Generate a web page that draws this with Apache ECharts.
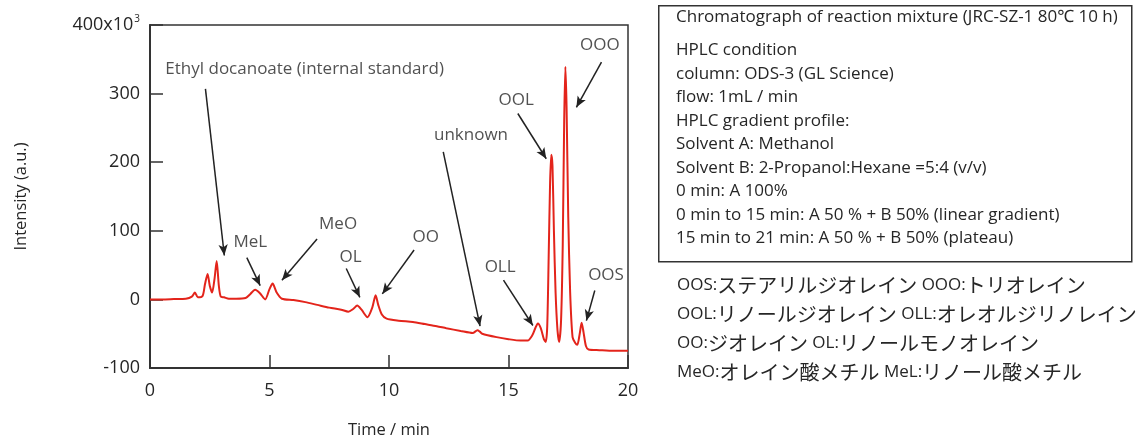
<!DOCTYPE html>
<html>
<head>
<meta charset="utf-8">
<script src="https://cdn.jsdelivr.net/npm/echarts@6/dist/echarts.min.js"></script>
<style>
  html, body { margin: 0; padding: 0; background: #fff; }
  #chart { width: 1138px; height: 439px; }
</style>
</head>
<body>
<div id="chart"></div>
<script>
// retention time (min) and intensity (x10^3, a.u.)
var times = [0, 0.5, 1.0, 1.5, 1.75, 1.88, 2.0, 2.2, 2.3, 2.41, 2.5, 2.6, 2.7, 2.79, 2.88, 2.96, 3.1, 3.3, 3.6, 4.0, 4.2, 4.4, 4.6, 4.82, 5.0, 5.13, 5.3, 5.52,
             6.0, 6.5, 7.0, 7.5, 8.0, 8.3, 8.5, 8.67, 8.85, 9.1, 9.3, 9.44, 9.55, 9.7, 9.9, 10.4, 11.0, 11.5, 12.0, 12.4, 13.0, 13.5, 13.7, 13.8, 13.9, 14.5, 15.0,
             15.5, 15.8, 16.0, 16.12, 16.23, 16.35, 16.48, 16.56, 16.62, 16.68, 16.74, 16.79, 16.84, 16.9, 16.97, 17.05, 17.12, 17.2, 17.27, 17.33, 17.38, 17.43,
             17.5, 17.58, 17.68, 17.8, 17.88, 17.98, 18.06, 18.14, 18.24, 18.35, 18.8, 19.4, 20];
var intensity = [0, 0, 0.5, 1, 4, 10, 3, 5, 22, 37, 20, 10, 30, 56, 20, 4, 3, 1, 1, 2, 8, 14, 9, 0, 15, 23, 10, 1,
                 -1, -4, -8, -12, -15, -18, -14, -9, -15, -26, -12, 6, -8, -22, -28, -31, -33, -36, -39, -42, -46, -49, -45, -47, -50, -55, -58,
                 -60, -60, -52, -42, -35, -42, -58, -62, -40, 60, 170, 211, 195, 100, 10, -45, -62, -30, 80, 260, 339, 280,
                 120, 10, -55, -64, -66, -50, -34, -48, -68, -73, -74, -75, -75];

var yTicks = [-100, 0, 100, 200, 300, 400];

// annotations: label text, label position, arrow tail, arrow head (data coords)
var annoText = ['Ethyl docanoate (internal standard)', 'MeL', 'MeO', 'OL', 'OO', 'unknown', 'OOL', 'OOO', 'OLL', 'OOS'];
var annoLabelPos = [[6.47, 335], [4.2, 83], [7.87, 110], [8.39, 61], [11.54, 91], [13.43, 239], [15.32, 290], [18.82, 370], [14.65, 47], [19.08, 35]];
var annoFrom = [[2.32, 307], [4.05, 61], [6.99, 88], [8.21, 45], [11.05, 72], [12.27, 215], [15.39, 271], [18.89, 346], [14.79, 28], [18.61, 13]];
var annoTo = [[3.11, 64], [4.61, 20], [5.52, 28], [8.78, 3], [9.72, 8], [13.81, -39], [16.58, 205], [17.84, 280], [16.02, -38], [18.26, -31]];

var infoTitle = 'Chromatograph of reaction mixture (JRC-SZ-1 80\u2103 10 h)';
var infoLines = [
    'HPLC condition',
    'column: ODS-3 (GL Science)',
    'flow: 1mL / min',
    'HPLC gradient profile:',
    'Solvent A: Methanol',
    'Solvent B: 2-Propanol:Hexane =5:4 (v/v)',
    '0 min: A 100%',
    '0 min to 15 min: A 50 % + B 50% (linear gradient)',
    '15 min to 21 min: A 50 % + B 50% (plateau)'
];
var legendAbbr = [['OOS', 'ステアリルジオレイン', 'OOO', 'トリオレイン'],
                  ['OOL', 'リノールジオレイン', 'OLL', 'オレオルジリノレイン'],
                  ['OO', 'ジオレイン', 'OL', 'リノールモノオレイン'],
                  ['MeO', 'オレイン酸メチル', 'MeL', 'リノール酸メチル']];

var font = '"Open Sans", "Noto Sans", sans-serif';
var textColor = '#262626';

var myChart = echarts.init(document.getElementById('chart'), null, {renderer: 'canvas'});

var curve = [];
for (var i = 0; i < times.length; i++) {
    curve.push([times[i], intensity[i]]);
}
var arrows = [];
var labels = [];
for (var j = 0; j < annoText.length; j++) {
    arrows.push([{coord: annoFrom[j]}, {coord: annoTo[j]}]);
    labels.push({name: annoText[j], value: annoLabelPos[j]});
}

var graphics = [];
graphics.push({
    type: 'rect', left: 658, top: 5, z: 10,
    shape: {width: 473, height: 256},
    style: {fill: '#fff', stroke: '#333', lineWidth: 1.5}
});
graphics.push({
    type: 'text', left: 676, top: 9, z: 11,
    style: {text: infoTitle, font: '17px ' + font, fill: textColor}
});
for (var k = 0; k < infoLines.length; k++) {
    graphics.push({
        type: 'text', left: 676, top: 42 + k * 23.5, z: 11,
        style: {text: infoLines[k], font: '17px ' + font, fill: textColor}
    });
}
for (var m = 0; m < legendAbbr.length; m++) {
    var row = legendAbbr[m];
    graphics.push({
        type: 'text', left: 677, top: 275 + m * 29, z: 11,
        style: {
            text: '{a|' + row[0] + ':}{b|' + row[1] + '}{a| ' + row[2] + ':}{b|' + row[3] + '}',
            fill: textColor,
            rich: {
                a: {fontSize: 17, fontFamily: font, fill: textColor},
                b: {fontSize: 20, fontFamily: '"Noto Sans CJK JP"', fill: textColor}
            }
        }
    });
}

var option = {
    animation: false,
    grid: {left: 150, right: 510, top: 25, bottom: 71, show: true, borderColor: '#333', borderWidth: 1.5,
           outerBoundsMode: 'none'},
    xAxis: {
        type: 'value', min: 0, max: 20, interval: 5,
        name: 'Time / min', nameLocation: 'middle', nameGap: 54,
        nameTextStyle: {fontSize: 16.5, fontFamily: font, color: textColor},
        axisLine: {onZero: false, lineStyle: {color: '#333', width: 2}},
        axisTick: {inside: true, length: 13, lineStyle: {color: '#333', width: 1.5}},
        axisLabel: {fontSize: 18, fontFamily: font, color: textColor, margin: 14},
        splitLine: {show: false}
    },
    yAxis: {
        type: 'value', min: -100, max: 400, interval: 100,
        name: 'Intensity (a.u.)', nameLocation: 'middle', nameGap: 120,
        nameTextStyle: {fontSize: 16.5, fontFamily: font, color: textColor},
        axisLine: {show: true, onZero: false, lineStyle: {color: '#333', width: 2}},
        axisTick: {show: true, inside: true, length: 13, lineStyle: {color: '#333', width: 1.5}},
        axisLabel: {
            fontSize: 18, fontFamily: font, color: textColor, margin: 10,
            formatter: function (v) {
                if (v === yTicks[yTicks.length - 1]) return '{n|' + v + 'x10}{s|3}';
                return '{n|' + v + '}';
            },
            rich: {
                n: {fontSize: 18, fontFamily: font, color: textColor},
                s: {fontSize: 10, fontFamily: font, color: textColor, verticalAlign: 'top', padding: [0, 0, 12, 1]}
            }
        },
        splitLine: {show: false}
    },
    series: [{
        type: 'line',
        data: curve,
        smooth: 0.25,
        showSymbol: false,
        lineStyle: {color: '#e3241b', width: 2},
        markLine: {
            silent: true,
            symbol: ['none', 'arrow'],
            symbolSize: [7, 11],
            lineStyle: {color: '#222', width: 1.5, type: 'solid'},
            label: {show: false},
            data: arrows
        }
    }, {
        type: 'scatter',
        data: labels,
        symbolSize: 1,
        itemStyle: {color: 'rgba(0,0,0,0)'},
        silent: true,
        label: {
            show: true, position: 'inside',
            formatter: '{b}',
            fontSize: 17, fontFamily: font, color: textColor
        }
    }],
    graphic: graphics
};

myChart.setOption(option);
</script>
</body>
</html>
